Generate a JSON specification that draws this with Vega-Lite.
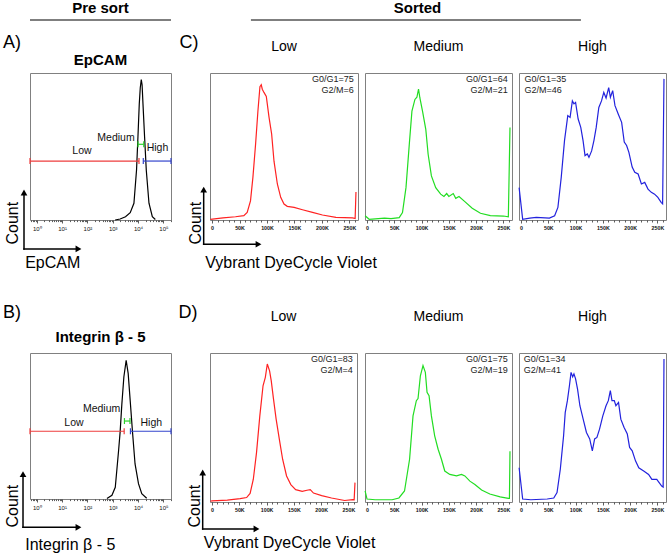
{
"$schema": "https://vega.github.io/schema/vega-lite/v6.json",
"background": "white",
"padding": {"left": 3, "top": 0, "right": 2, "bottom": 2},
"columns": 6,
"bounds": "flush",
"align": {"row": "each", "column": "each"},
"spacing": {"row": 0, "column": 7},
"config": {
  "font": "Liberation Sans",
  "view": {"stroke": "#808080", "strokeWidth": 1},
  "axis": {"grid": false, "domain": false, "labelFont": "Liberation Sans", "titleFont": "Liberation Sans", "titleFontWeight": "normal", "titleColor": "black", "titleFontSize": 16},
  "title": {"font": "Liberation Sans", "color": "black"},
  "text": {"font": "Liberation Sans", "color": "black"}
},
"datasets": {
  "A": [{"v":1245,"n":0},{"v":1960,"n":0.7},{"v":3190,"n":2.2},{"v":4900,"n":5},{"v":6870,"n":11.4},{"v":8710,"n":34},{"v":9910,"n":56.6},{"v":11170,"n":79},{"v":12230,"n":90},{"v":13400,"n":95.5},{"v":14420,"n":92},{"v":15640,"n":79},{"v":18100,"n":56.6},{"v":21100,"n":34},{"v":27000,"n":11.4},{"v":36600,"n":2.2},{"v":48200,"n":0.3}],
  "B": [{"v":590,"n":0.3},{"v":930,"n":2.5},{"v":1260,"n":8},{"v":1700,"n":33},{"v":1960,"n":46},{"v":2290,"n":65},{"v":2750,"n":83.6},{"v":3390,"n":95},{"v":4070,"n":86},{"v":4880,"n":67.6},{"v":6030,"n":46},{"v":7610,"n":24},{"v":10400,"n":10.5},{"v":14000,"n":3.6},{"v":21900,"n":0.5}],
  "gatesA": [{"g":"Low","from":0.54,"to":10900,"n":40.1},{"g":"Medium","from":10000,"to":16800,"n":51.5},{"g":"High","from":16100,"to":200000,"n":40.1}],
  "gatesB": [{"g":"Low","from":0.54,"to":2830,"n":46.4},{"g":"Medium","from":2900,"to":4800,"n":53.4},{"g":"High","from":5000,"to":200000,"n":46.4}],
  "labA": [{"t":"Low","v":61,"n":46.9},{"t":"Medium","v":1350,"n":56},{"t":"High","v":58600,"n":48.8}],
  "labB": [{"t":"Low","v":29.5,"n":52.3},{"t":"Medium","v":363,"n":61.4},{"t":"High","v":33400,"n":52}],
  "Clow": [{"k":-3,"n":0.4},{"k":20,"n":1.5},{"k":42.7,"n":2.2},{"k":57.9,"n":3},{"k":64,"n":5.2},{"k":70,"n":13},{"k":74.4,"n":29},{"k":79.3,"n":51.7},{"k":83.5,"n":74},{"k":87.2,"n":90.7},{"k":89.6,"n":92},{"k":91.5,"n":89},{"k":94.5,"n":86.8},{"k":98.8,"n":84},{"k":103.7,"n":70},{"k":108.5,"n":58.5},{"k":112.8,"n":40},{"k":118.9,"n":24.5},{"k":125,"n":15.4},{"k":131,"n":10.9},{"k":137,"n":9.3},{"k":149.4,"n":8.6},{"k":164.6,"n":7},{"k":182.9,"n":5.2},{"k":201,"n":3.4},{"k":225.5,"n":1.8},{"k":256,"n":1.4},{"k":260.5,"n":1},{"k":262,"n":19}],
  "Cmed": [{"k":-3.5,"n":2.9},{"k":4,"n":0.5},{"k":32,"n":1.3},{"k":44,"n":1},{"k":59,"n":1.6},{"k":65,"n":5},{"k":71.4,"n":22},{"k":77.5,"n":51.6},{"k":82.3,"n":74},{"k":87.8,"n":82},{"k":91.4,"n":83.5},{"k":94.4,"n":89},{"k":96.9,"n":83},{"k":101.7,"n":74},{"k":107.7,"n":61.7},{"k":112,"n":44.7},{"k":118,"n":30},{"k":125.9,"n":22},{"k":135,"n":17.6},{"k":141,"n":16},{"k":146,"n":18},{"k":150,"n":16},{"k":158,"n":18},{"k":162.6,"n":14.7},{"k":168.6,"n":16},{"k":177.7,"n":13},{"k":192.8,"n":8},{"k":207.9,"n":4.6},{"k":226,"n":3},{"k":250,"n":2.7},{"k":259,"n":2.2},{"k":262,"n":63}],
  "Chigh": [{"k":-3.5,"n":22},{"k":3,"n":0.5},{"k":16,"n":1.3},{"k":28,"n":1.8},{"k":52,"n":1.3},{"k":61.6,"n":2.9},{"k":67.6,"n":8.6},{"k":73.7,"n":29},{"k":79.7,"n":54},{"k":85.7,"n":71},{"k":89.9,"n":69.8},{"k":94.1,"n":81},{"k":97,"n":79},{"k":100,"n":80},{"k":104.7,"n":68.7},{"k":109.5,"n":63},{"k":113.7,"n":54},{"k":117.3,"n":43.8},{"k":121.5,"n":44.9},{"k":124.5,"n":42.6},{"k":129.4,"n":47},{"k":133.6,"n":54},{"k":137.8,"n":63},{"k":142.6,"n":76.6},{"k":147.5,"n":81},{"k":151.7,"n":86.8},{"k":155.9,"n":83},{"k":160.7,"n":90},{"k":163.8,"n":83.5},{"k":168,"n":88},{"k":172.2,"n":77.8},{"k":178.3,"n":72},{"k":184.4,"n":66.4},{"k":189.2,"n":53},{"k":193.5,"n":50.7},{"k":197.7,"n":46},{"k":203.7,"n":36},{"k":208.5,"n":32.5},{"k":214.6,"n":31.3},{"k":220.6,"n":24.5},{"k":226.7,"n":25.6},{"k":232.7,"n":21},{"k":238.8,"n":18.8},{"k":244.8,"n":17.6},{"k":250.8,"n":15.4},{"k":256.8,"n":12},{"k":259.5,"n":11},{"k":262,"n":96}],
  "Dlow": [{"k":-3,"n":0.5},{"k":0,"n":0.7},{"k":28,"n":1.3},{"k":51.5,"n":2.3},{"k":63.4,"n":3},{"k":69.8,"n":5.8},{"k":75.7,"n":15.3},{"k":81.5,"n":33},{"k":87.6,"n":57.8},{"k":93.5,"n":78},{"k":97.7,"n":83.7},{"k":101.3,"n":92.6},{"k":105.5,"n":88},{"k":108.5,"n":81.5},{"k":112.7,"n":69},{"k":117.5,"n":55.6},{"k":123.4,"n":42},{"k":129.4,"n":28.7},{"k":136.6,"n":17.5},{"k":144.4,"n":11.7},{"k":153.3,"n":8.3},{"k":165.3,"n":7.2},{"k":174,"n":7.9},{"k":180,"n":8.3},{"k":186,"n":6},{"k":201,"n":4.3},{"k":219,"n":2.7},{"k":243,"n":1},{"k":258,"n":1.6},{"k":260.5,"n":1.5},{"k":262,"n":13}],
  "Dmed": [{"k":-3.5,"n":7.4},{"k":0,"n":2},{"k":15,"n":1.5},{"k":46,"n":1.5},{"k":58.5,"n":2.7},{"k":68.7,"n":7.4},{"k":78,"n":28.7},{"k":84.3,"n":57.8},{"k":90.4,"n":68},{"k":93.5,"n":69.4},{"k":97.8,"n":84.7},{"k":102.6,"n":91.5},{"k":106.9,"n":87},{"k":110,"n":73.6},{"k":113.7,"n":71.3},{"k":118,"n":57.8},{"k":124,"n":44.4},{"k":130.3,"n":35.4},{"k":136.4,"n":28.7},{"k":142.5,"n":20.8},{"k":151.7,"n":18.5},{"k":164,"n":17.5},{"k":173.2,"n":18.5},{"k":179.3,"n":17.5},{"k":188.5,"n":14},{"k":197.7,"n":11.8},{"k":210,"n":8},{"k":225,"n":5.4},{"k":244,"n":3.4},{"k":259,"n":2.5},{"k":261,"n":2.5},{"k":262,"n":34}],
  "Dhigh": [{"k":-3.5,"n":23},{"k":3,"n":2},{"k":18,"n":1.5},{"k":48,"n":2},{"k":60,"n":2.7},{"k":66,"n":6.3},{"k":72,"n":22},{"k":78,"n":44.4},{"k":81,"n":60},{"k":85,"n":68},{"k":88.7,"n":78},{"k":91.7,"n":87},{"k":94.7,"n":84},{"k":97,"n":86},{"k":100,"n":82.6},{"k":103.6,"n":75.8},{"k":107.9,"n":64.6},{"k":113.9,"n":55.6},{"k":119.9,"n":46.7},{"k":125.9,"n":42.3},{"k":130.7,"n":34.3},{"k":134.9,"n":42.3},{"k":139.1,"n":43.3},{"k":143.9,"n":48.9},{"k":149.9,"n":57.8},{"k":155.8,"n":64.6},{"k":160,"n":68},{"k":163.7,"n":74.8},{"k":166.7,"n":68},{"k":170.9,"n":68},{"k":173.9,"n":64.6},{"k":178.7,"n":66.8},{"k":182.9,"n":55.6},{"k":188.9,"n":50},{"k":194.8,"n":45.6},{"k":199,"n":36.6},{"k":203.8,"n":34.3},{"k":209.8,"n":27.6},{"k":215.8,"n":23},{"k":224.8,"n":20.8},{"k":233.8,"n":18.5},{"k":239.8,"n":15.2},{"k":248.8,"n":15.2},{"k":257.8,"n":10.7},{"k":260.5,"n":10},{"k":262,"n":96}]
},
"concat": [
  {"width": 18, "height": 53, "view": {"stroke": null}, "data": {"values": [{"t": "A)"}]}, "mark": {"type": "text", "fontSize": 18, "baseline": "middle", "dy": -4}, "encoding": {"text": {"field": "t", "type": "nominal"}}},
  {"width": 141, "height": 53, "view": {"stroke": null}, "title": {"text": "Pre sort", "fontSize": 15, "fontWeight": "bold", "offset": 3.5}, "data": {"values": [{}]}, "mark": {"type": "rule", "color": "#555555", "strokeWidth": 1.4}, "encoding": {"x": {"datum": 0, "type": "quantitative", "scale": {"domain": [0, 1]}, "axis": null}, "x2": {"datum": 1}, "y": {"datum": 1, "type": "quantitative", "scale": {"domain": [0, 1]}, "axis": null}}},
  {"width": 25, "height": 53, "view": {"stroke": null}, "data": {"values": [{"t": "C)"}]}, "mark": {"type": "text", "fontSize": 18, "baseline": "middle", "dy": -4, "dx": -1.5}, "encoding": {"text": {"field": "t", "type": "nominal"}}},
  {"width": 0, "height": 0, "view": {"stroke": null}, "data": {"values": []}, "mark": "point"},
  {"width": 147, "height": 53, "view": {"stroke": null}, "title": {"text": "Sorted", "fontSize": 15, "fontWeight": "bold", "offset": 3.5, "dx": -21}, "data": {"values": [{}]}, "mark": {"type": "rule", "color": "#555555", "strokeWidth": 1.4}, "encoding": {"x": {"datum": -0.776, "type": "quantitative", "scale": {"domain": [0, 1]}, "axis": null}, "x2": {"datum": 1.469}, "y": {"datum": 1, "type": "quantitative", "scale": {"domain": [0, 1]}, "axis": null}}},
  {"width": 0, "height": 0, "view": {"stroke": null}, "data": {"values": []}, "mark": "point"},

  {"width": 0, "height": 0, "view": {"stroke": null}, "data": {"values": []}, "mark": "point"},
  {
   "width": 141, "height": 147,
   "title": {"text": "EpCAM", "fontSize": 15, "fontWeight": "bold", "offset": 5},
   "resolve": {"axis": {"x": "independent", "y": "independent"}},
   "layer": [
    {"data": {"name": "A"}, "mark": {"type": "line", "color": "black", "strokeWidth": 1.2},
     "encoding": {
      "x": {"field": "v", "type": "quantitative", "scale": {"type": "log", "domain": [0.54, 200000], "nice": false},
            "axis": {"values": [0.6,0.7,0.8,0.9,1,2,3,4,5,6,7,8,9,10,20,30,40,50,60,70,80,90,100,200,300,400,500,600,700,800,900,1000,2000,3000,4000,5000,6000,7000,8000,9000,10000,20000,30000,40000,50000,60000,70000,80000,90000,100000,200000],
                     "labelExpr": "indexof([1,10,100,1000,10000,100000], datum.value) >= 0 ? '10' + ['⁰','¹','²','³','⁴','⁵'][round(log(datum.value)/LN10)] : ''",
                     "labelFontSize": 6, "labelColor": "#111111", "labelPadding": 2, "labelFlush": false, "labelOverlap": false, "labelBound": false,
                     "tickColor": "#333333", "tickWidth": 0.8,
                     "tickSize": {"condition": {"test": "indexof([1,10,100,1000,10000,100000], datum.value) >= 0", "value": 3}, "value": 1.6},
                     "title": "EpCAM", "titleX": -5.3, "titleY": 47, "titleAlign": "left", "titleBaseline": "alphabetic"}},
      "y": {"field": "n", "type": "quantitative", "scale": {"domain": [0, 100], "nice": false},
            "axis": {"title": "Count", "labels": false, "ticks": false, "domain": false, "titleX": -13, "titleY": 171, "titleAlign": "left", "titleBaseline": "alphabetic", "titleAngle": 270}}
     }},
    {"data": {"name": "gatesA"}, "mark": {"type": "rule", "strokeWidth": 1.2},
     "encoding": {"x": {"field": "from", "type": "quantitative", "axis": null}, "x2": {"field": "to"}, "y": {"field": "n", "type": "quantitative", "axis": null},
                  "color": {"field": "g", "type": "nominal", "scale": {"domain": ["Low", "Medium", "High"], "range": ["#ee3c3c", "#2ed12e", "#3344cc"]}, "legend": null}}},
    {"data": {"name": "gatesA"}, "transform": [{"fold": ["from", "to"], "as": ["end", "pos"]}], "mark": {"type": "tick", "orient": "vertical", "size": 6, "thickness": 1.2, "opacity": 1},
     "encoding": {"x": {"field": "pos", "type": "quantitative", "axis": null}, "y": {"field": "n", "type": "quantitative", "axis": null},
                  "color": {"field": "g", "type": "nominal", "legend": null}}},
    {"data": {"name": "labA"}, "mark": {"type": "text", "fontSize": 10.5, "baseline": "middle", "color": "#111111"},
     "encoding": {"x": {"field": "v", "type": "quantitative", "axis": null}, "y": {"field": "n", "type": "quantitative", "axis": null}, "text": {"field": "t", "type": "nominal"}}},
    {"data": {"values": [{}]}, "mark": {"type": "rule", "color": "black", "strokeWidth": 1.5, "strokeCap": "square"},
     "encoding": {"x": {"datum": 0.313, "type": "quantitative", "axis": null}, "y": {"datum": -19.7, "type": "quantitative", "axis": null}, "y2": {"datum": 18.7}}},
    {"data": {"values": [{}]}, "mark": {"type": "rule", "color": "black", "strokeWidth": 1.5, "strokeCap": "square"},
     "encoding": {"x": {"datum": 0.313, "type": "quantitative", "axis": null}, "x2": {"datum": 44.4}, "y": {"datum": -19.7, "type": "quantitative", "axis": null}}},
    {"data": {"values": [{}]}, "mark": {"type": "point", "shape": "triangle-up", "filled": true, "color": "black", "size": 45, "opacity": 1},
     "encoding": {"x": {"datum": 0.313, "type": "quantitative", "axis": null}, "y": {"datum": 18.7, "type": "quantitative", "axis": null}}},
    {"data": {"values": [{}]}, "mark": {"type": "point", "shape": "triangle-right", "filled": true, "color": "black", "size": 45, "opacity": 1},
     "encoding": {"x": {"datum": 44.4, "type": "quantitative", "axis": null}, "y": {"datum": -19.7, "type": "quantitative", "axis": null}}}
   ]
  },
  {"width": 0, "height": 0, "view": {"stroke": null}, "data": {"values": []}, "mark": "point"},
  {
   "width": 148, "height": 147,
   "title": {"text": "Low", "fontSize": 14, "fontWeight": "normal", "offset": 19},
   "resolve": {"axis": {"x": "independent", "y": "independent"}},
   "layer": [
    {"data": {"name": "Clow"}, "mark": {"type": "line", "color": "#ff2222", "strokeWidth": 1.2},
     "encoding": {
      "x": {"field": "k", "type": "quantitative", "scale": {"domain": [-3.7, 265.7], "nice": false},
            "axis": {"values": [0,10,20,30,40,50,60,70,80,90,100,110,120,130,140,150,160,170,180,190,200,210,220,230,240,250,260],
                     "labelExpr": "datum.value % 50 === 0 ? (datum.value === 0 ? '0' : datum.value + 'K') : ''",
                     "labelFontSize": 5.3, "labelFontWeight": "bold", "labelColor": "#111111", "labelPadding": 2, "labelFlush": false, "labelOverlap": false, "labelBound": false,
                     "tickColor": "#333333", "tickWidth": 0.8, "tickSize": {"condition": {"test": "datum.value % 50 === 0", "value": 3}, "value": 2},
                     "title": "Vybrant DyeCycle Violet", "titleX": -5.3, "titleY": 47.7, "titleAlign": "left", "titleBaseline": "alphabetic"}},
      "y": {"field": "n", "type": "quantitative", "scale": {"domain": [0, 100], "nice": false},
            "axis": {"title": "Count", "labels": false, "ticks": false, "domain": false, "titleX": -10, "titleY": 171, "titleAlign": "left", "titleBaseline": "alphabetic", "titleAngle": 270}}
     }},
    {"data": {"values": [{"t": "G0/G1=75\nG2/M=6"}]}, "mark": {"type": "text", "align": "right", "baseline": "top", "fontSize": 9, "lineHeight": 11.5, "lineBreak": "\n", "dy": 1.5, "color": "#222222"},
     "encoding": {"x": {"datum": 258, "type": "quantitative", "axis": null}, "y": {"datum": 100, "type": "quantitative", "axis": null}, "text": {"field": "t", "type": "nominal"}}},
    {"data": {"values": [{}]}, "mark": {"type": "rule", "color": "black", "strokeWidth": 1.5, "strokeCap": "square"},
     "encoding": {"x": {"datum": -15.2, "type": "quantitative", "axis": null}, "y": {"datum": -16.5, "type": "quantitative", "axis": null}, "y2": {"datum": 20.7}}},
    {"data": {"values": [{}]}, "mark": {"type": "rule", "color": "black", "strokeWidth": 1.5, "strokeCap": "square"},
     "encoding": {"x": {"datum": -15.2, "type": "quantitative", "axis": null}, "x2": {"datum": 84.6}, "y": {"datum": -16.5, "type": "quantitative", "axis": null}}},
    {"data": {"values": [{}]}, "mark": {"type": "point", "shape": "triangle-up", "filled": true, "color": "black", "size": 45, "opacity": 1},
     "encoding": {"x": {"datum": -15.2, "type": "quantitative", "axis": null}, "y": {"datum": 20.7, "type": "quantitative", "axis": null}}},
    {"data": {"values": [{}]}, "mark": {"type": "point", "shape": "triangle-right", "filled": true, "color": "black", "size": 45, "opacity": 1},
     "encoding": {"x": {"datum": 84.6, "type": "quantitative", "axis": null}, "y": {"datum": -16.5, "type": "quantitative", "axis": null}}}
   ]
  },
  {
   "width": 147, "height": 147,
   "title": {"text": "Medium", "fontSize": 14, "fontWeight": "normal", "offset": 19},
   "resolve": {"axis": {"x": "independent", "y": "independent"}},
   "layer": [
    {"data": {"name": "Cmed"}, "mark": {"type": "line", "color": "#22dd22", "strokeWidth": 1.2},
     "encoding": {
      "x": {"field": "k", "type": "quantitative", "scale": {"domain": [-3.7, 265.7], "nice": false},
            "axis": {"values": [0,10,20,30,40,50,60,70,80,90,100,110,120,130,140,150,160,170,180,190,200,210,220,230,240,250,260],
                     "labelExpr": "datum.value % 50 === 0 ? (datum.value === 0 ? '0' : datum.value + 'K') : ''",
                     "labelFontSize": 5.3, "labelFontWeight": "bold", "labelColor": "#111111", "labelPadding": 2, "labelFlush": false, "labelOverlap": false, "labelBound": false,
                     "tickColor": "#333333", "tickWidth": 0.8, "tickSize": {"condition": {"test": "datum.value % 50 === 0", "value": 3}, "value": 2},
                     "title": null}},
      "y": {"field": "n", "type": "quantitative", "scale": {"domain": [0, 100], "nice": false}, "axis": null}
     }},
    {"data": {"values": [{"t": "G0/G1=64\nG2/M=21"}]}, "mark": {"type": "text", "align": "right", "baseline": "top", "fontSize": 9, "lineHeight": 11.5, "lineBreak": "\n", "dy": 1.5, "color": "#222222"},
     "encoding": {"x": {"datum": 258, "type": "quantitative", "axis": null}, "y": {"datum": 100, "type": "quantitative", "axis": null}, "text": {"field": "t", "type": "nominal"}}}
   ]
  },
  {
   "width": 147, "height": 147,
   "title": {"text": "High", "fontSize": 14, "fontWeight": "normal", "offset": 19},
   "resolve": {"axis": {"x": "independent", "y": "independent"}},
   "layer": [
    {"data": {"name": "Chigh"}, "mark": {"type": "line", "color": "#2222dd", "strokeWidth": 1.2},
     "encoding": {
      "x": {"field": "k", "type": "quantitative", "scale": {"domain": [-3.7, 265.7], "nice": false},
            "axis": {"values": [0,10,20,30,40,50,60,70,80,90,100,110,120,130,140,150,160,170,180,190,200,210,220,230,240,250,260],
                     "labelExpr": "datum.value % 50 === 0 ? (datum.value === 0 ? '0' : datum.value + 'K') : ''",
                     "labelFontSize": 5.3, "labelFontWeight": "bold", "labelColor": "#111111", "labelPadding": 2, "labelFlush": false, "labelOverlap": false, "labelBound": false,
                     "tickColor": "#333333", "tickWidth": 0.8, "tickSize": {"condition": {"test": "datum.value % 50 === 0", "value": 3}, "value": 2},
                     "title": null}},
      "y": {"field": "n", "type": "quantitative", "scale": {"domain": [0, 100], "nice": false}, "axis": null}
     }},
    {"data": {"values": [{"t": "G0/G1=35\nG2/M=46"}]}, "mark": {"type": "text", "align": "left", "baseline": "top", "fontSize": 9, "lineHeight": 11.5, "lineBreak": "\n", "dy": 1.5, "color": "#222222"},
     "encoding": {"x": {"datum": 6.5, "type": "quantitative", "axis": null}, "y": {"datum": 100, "type": "quantitative", "axis": null}, "text": {"field": "t", "type": "nominal"}}}
   ]
  },

  {"width": 18, "height": 133, "view": {"stroke": null}, "data": {"values": [{"t": "B)"}]}, "mark": {"type": "text", "fontSize": 18, "baseline": "middle", "dy": 26}, "encoding": {"text": {"field": "t", "type": "nominal"}}},
  {"width": 0, "height": 0, "view": {"stroke": null}, "data": {"values": []}, "mark": "point"},
  {"width": 25, "height": 133, "view": {"stroke": null}, "data": {"values": [{"t": "D)"}]}, "mark": {"type": "text", "fontSize": 18, "baseline": "middle", "dy": 26, "dx": -2.5}, "encoding": {"text": {"field": "t", "type": "nominal"}}},
  {"width": 0, "height": 0, "view": {"stroke": null}, "data": {"values": []}, "mark": "point"},
  {"width": 0, "height": 0, "view": {"stroke": null}, "data": {"values": []}, "mark": "point"},
  {"width": 0, "height": 0, "view": {"stroke": null}, "data": {"values": []}, "mark": "point"},

  {"width": 0, "height": 0, "view": {"stroke": null}, "data": {"values": []}, "mark": "point"},
  {
   "width": 141, "height": 146,
   "title": {"text": "Integrin β - 5", "fontSize": 15, "fontWeight": "bold", "offset": 8},
   "resolve": {"axis": {"x": "independent", "y": "independent"}},
   "layer": [
    {"data": {"name": "B"}, "mark": {"type": "line", "color": "black", "strokeWidth": 1.2},
     "encoding": {
      "x": {"field": "v", "type": "quantitative", "scale": {"type": "log", "domain": [0.54, 200000], "nice": false},
            "axis": {"values": [0.6,0.7,0.8,0.9,1,2,3,4,5,6,7,8,9,10,20,30,40,50,60,70,80,90,100,200,300,400,500,600,700,800,900,1000,2000,3000,4000,5000,6000,7000,8000,9000,10000,20000,30000,40000,50000,60000,70000,80000,90000,100000,200000],
                     "labelExpr": "indexof([1,10,100,1000,10000,100000], datum.value) >= 0 ? '10' + ['⁰','¹','²','³','⁴','⁵'][round(log(datum.value)/LN10)] : ''",
                     "labelFontSize": 6, "labelColor": "#111111", "labelPadding": 2, "labelFlush": false, "labelOverlap": false, "labelBound": false,
                     "tickColor": "#333333", "tickWidth": 0.8,
                     "tickSize": {"condition": {"test": "indexof([1,10,100,1000,10000,100000], datum.value) >= 0", "value": 3}, "value": 1.6},
                     "title": "Integrin β - 5", "titleX": -5.3, "titleY": 50, "titleAlign": "left", "titleBaseline": "alphabetic"}},
      "y": {"field": "n", "type": "quantitative", "scale": {"domain": [0, 100], "nice": false},
            "axis": {"title": "Count", "labels": false, "ticks": false, "domain": false, "titleX": -13, "titleY": 174, "titleAlign": "left", "titleBaseline": "alphabetic", "titleAngle": 270}}
     }},
    {"data": {"name": "gatesB"}, "mark": {"type": "rule", "strokeWidth": 1.2},
     "encoding": {"x": {"field": "from", "type": "quantitative", "axis": null}, "x2": {"field": "to"}, "y": {"field": "n", "type": "quantitative", "axis": null},
                  "color": {"field": "g", "type": "nominal", "scale": {"domain": ["Low", "Medium", "High"], "range": ["#ee3c3c", "#2ed12e", "#3344cc"]}, "legend": null}}},
    {"data": {"name": "gatesB"}, "transform": [{"fold": ["from", "to"], "as": ["end", "pos"]}], "mark": {"type": "tick", "orient": "vertical", "size": 6, "thickness": 1.2, "opacity": 1},
     "encoding": {"x": {"field": "pos", "type": "quantitative", "axis": null}, "y": {"field": "n", "type": "quantitative", "axis": null},
                  "color": {"field": "g", "type": "nominal", "legend": null}}},
    {"data": {"name": "labB"}, "mark": {"type": "text", "fontSize": 10.5, "baseline": "middle", "color": "#111111"},
     "encoding": {"x": {"field": "v", "type": "quantitative", "axis": null}, "y": {"field": "n", "type": "quantitative", "axis": null}, "text": {"field": "t", "type": "nominal"}}},
    {"data": {"values": [{}]}, "mark": {"type": "rule", "color": "black", "strokeWidth": 1.5, "strokeCap": "square"},
     "encoding": {"x": {"datum": 0.286, "type": "quantitative", "axis": null}, "y": {"datum": -19.4, "type": "quantitative", "axis": null}, "y2": {"datum": 17}}},
    {"data": {"values": [{}]}, "mark": {"type": "rule", "color": "black", "strokeWidth": 1.5, "strokeCap": "square"},
     "encoding": {"x": {"datum": 0.286, "type": "quantitative", "axis": null}, "x2": {"datum": 44.4}, "y": {"datum": -19.4, "type": "quantitative", "axis": null}}},
    {"data": {"values": [{}]}, "mark": {"type": "point", "shape": "triangle-up", "filled": true, "color": "black", "size": 45, "opacity": 1},
     "encoding": {"x": {"datum": 0.286, "type": "quantitative", "axis": null}, "y": {"datum": 17, "type": "quantitative", "axis": null}}},
    {"data": {"values": [{}]}, "mark": {"type": "point", "shape": "triangle-right", "filled": true, "color": "black", "size": 45, "opacity": 1},
     "encoding": {"x": {"datum": 44.4, "type": "quantitative", "axis": null}, "y": {"datum": -19.4, "type": "quantitative", "axis": null}}}
   ]
  },
  {"width": 0, "height": 0, "view": {"stroke": null}, "data": {"values": []}, "mark": "point"},
  {
   "width": 147, "height": 149,
   "title": {"text": "Low", "fontSize": 14, "fontWeight": "normal", "offset": 29},
   "resolve": {"axis": {"x": "independent", "y": "independent"}},
   "layer": [
    {"data": {"name": "Dlow"}, "mark": {"type": "line", "color": "#ff2222", "strokeWidth": 1.2},
     "encoding": {
      "x": {"field": "k", "type": "quantitative", "scale": {"domain": [-3.7, 265.7], "nice": false},
            "axis": {"values": [0,10,20,30,40,50,60,70,80,90,100,110,120,130,140,150,160,170,180,190,200,210,220,230,240,250,260],
                     "labelExpr": "datum.value % 50 === 0 ? (datum.value === 0 ? '0' : datum.value + 'K') : ''",
                     "labelFontSize": 5.3, "labelFontWeight": "bold", "labelColor": "#111111", "labelPadding": 2, "labelFlush": false, "labelOverlap": false, "labelBound": false,
                     "tickColor": "#333333", "tickWidth": 0.8, "tickSize": {"condition": {"test": "datum.value % 50 === 0", "value": 3}, "value": 2},
                     "title": "Vybrant DyeCycle Violet", "titleX": -6.7, "titleY": 45, "titleAlign": "left", "titleBaseline": "alphabetic"}},
      "y": {"field": "n", "type": "quantitative", "scale": {"domain": [0, 100], "nice": false},
            "axis": {"title": "Count", "labels": false, "ticks": false, "domain": false, "titleX": -11, "titleY": 174, "titleAlign": "left", "titleBaseline": "alphabetic", "titleAngle": 270}}
     }},
    {"data": {"values": [{"t": "G0/G1=83\nG2/M=4"}]}, "mark": {"type": "text", "align": "right", "baseline": "top", "fontSize": 9, "lineHeight": 11.5, "lineBreak": "\n", "dy": 1.5, "color": "#222222"},
     "encoding": {"x": {"datum": 258, "type": "quantitative", "axis": null}, "y": {"datum": 100, "type": "quantitative", "axis": null}, "text": {"field": "t", "type": "nominal"}}},
    {"data": {"values": [{}]}, "mark": {"type": "rule", "color": "black", "strokeWidth": 1.5, "strokeCap": "square"},
     "encoding": {"x": {"datum": -17.1, "type": "quantitative", "axis": null}, "y": {"datum": -18.1, "type": "quantitative", "axis": null}, "y2": {"datum": 19.8}}},
    {"data": {"values": [{}]}, "mark": {"type": "rule", "color": "black", "strokeWidth": 1.5, "strokeCap": "square"},
     "encoding": {"x": {"datum": -17.1, "type": "quantitative", "axis": null}, "x2": {"datum": 81.5}, "y": {"datum": -18.1, "type": "quantitative", "axis": null}}},
    {"data": {"values": [{}]}, "mark": {"type": "point", "shape": "triangle-up", "filled": true, "color": "black", "size": 45, "opacity": 1},
     "encoding": {"x": {"datum": -17.1, "type": "quantitative", "axis": null}, "y": {"datum": 19.8, "type": "quantitative", "axis": null}}},
    {"data": {"values": [{}]}, "mark": {"type": "point", "shape": "triangle-right", "filled": true, "color": "black", "size": 45, "opacity": 1},
     "encoding": {"x": {"datum": 81.5, "type": "quantitative", "axis": null}, "y": {"datum": -18.1, "type": "quantitative", "axis": null}}}
   ]
  },
  {
   "width": 147, "height": 149,
   "title": {"text": "Medium", "fontSize": 14, "fontWeight": "normal", "offset": 29},
   "resolve": {"axis": {"x": "independent", "y": "independent"}},
   "layer": [
    {"data": {"name": "Dmed"}, "mark": {"type": "line", "color": "#22dd22", "strokeWidth": 1.2},
     "encoding": {
      "x": {"field": "k", "type": "quantitative", "scale": {"domain": [-3.7, 265.7], "nice": false},
            "axis": {"values": [0,10,20,30,40,50,60,70,80,90,100,110,120,130,140,150,160,170,180,190,200,210,220,230,240,250,260],
                     "labelExpr": "datum.value % 50 === 0 ? (datum.value === 0 ? '0' : datum.value + 'K') : ''",
                     "labelFontSize": 5.3, "labelFontWeight": "bold", "labelColor": "#111111", "labelPadding": 2, "labelFlush": false, "labelOverlap": false, "labelBound": false,
                     "tickColor": "#333333", "tickWidth": 0.8, "tickSize": {"condition": {"test": "datum.value % 50 === 0", "value": 3}, "value": 2},
                     "title": null}},
      "y": {"field": "n", "type": "quantitative", "scale": {"domain": [0, 100], "nice": false}, "axis": null}
     }},
    {"data": {"values": [{"t": "G0/G1=75\nG2/M=19"}]}, "mark": {"type": "text", "align": "right", "baseline": "top", "fontSize": 9, "lineHeight": 11.5, "lineBreak": "\n", "dy": 1.5, "color": "#222222"},
     "encoding": {"x": {"datum": 258, "type": "quantitative", "axis": null}, "y": {"datum": 100, "type": "quantitative", "axis": null}, "text": {"field": "t", "type": "nominal"}}}
   ]
  },
  {
   "width": 147, "height": 149,
   "title": {"text": "High", "fontSize": 14, "fontWeight": "normal", "offset": 29},
   "resolve": {"axis": {"x": "independent", "y": "independent"}},
   "layer": [
    {"data": {"name": "Dhigh"}, "mark": {"type": "line", "color": "#2222dd", "strokeWidth": 1.2},
     "encoding": {
      "x": {"field": "k", "type": "quantitative", "scale": {"domain": [-3.7, 265.7], "nice": false},
            "axis": {"values": [0,10,20,30,40,50,60,70,80,90,100,110,120,130,140,150,160,170,180,190,200,210,220,230,240,250,260],
                     "labelExpr": "datum.value % 50 === 0 ? (datum.value === 0 ? '0' : datum.value + 'K') : ''",
                     "labelFontSize": 5.3, "labelFontWeight": "bold", "labelColor": "#111111", "labelPadding": 2, "labelFlush": false, "labelOverlap": false, "labelBound": false,
                     "tickColor": "#333333", "tickWidth": 0.8, "tickSize": {"condition": {"test": "datum.value % 50 === 0", "value": 3}, "value": 2},
                     "title": null}},
      "y": {"field": "n", "type": "quantitative", "scale": {"domain": [0, 100], "nice": false}, "axis": null}
     }},
    {"data": {"values": [{"t": "G0/G1=34\nG2/M=41"}]}, "mark": {"type": "text", "align": "left", "baseline": "top", "fontSize": 9, "lineHeight": 11.5, "lineBreak": "\n", "dy": 1.5, "color": "#222222"},
     "encoding": {"x": {"datum": 5, "type": "quantitative", "axis": null}, "y": {"datum": 100, "type": "quantitative", "axis": null}, "text": {"field": "t", "type": "nominal"}}}
   ]
  }
]
}
